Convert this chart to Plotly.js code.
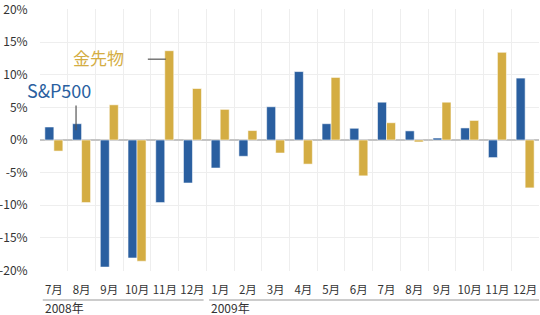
<!DOCTYPE html>
<html>
<head>
<meta charset="utf-8">
<script src="https://cdn.plot.ly/plotly-3.0.1.min.js"></script>
<style>html,body{margin:0;padding:0;background:#fff;}#chart{width:540px;height:315px;}</style>
</head>
<body>
<div id="chart"></div>
<script>
const categories = ["2008-07","2008-08","2008-09","2008-10","2008-11","2008-12","2009-01","2009-02","2009-03","2009-04","2009-05","2009-06","2009-07","2009-08","2009-09","2009-10","2009-11","2009-12"];
const monthLabels = ["7月","8月","9月","10月","11月","12月","1月","2月","3月","4月","5月","6月","7月","8月","9月","10月","11月","12月"];
const sp500 = [2.0, 2.5, -19.5, -18.1, -9.6, -6.6, -4.3, -2.5, 5.1, 10.5, 2.5, 1.8, 5.8, 1.4, 0.3, 1.85, -2.7, 9.5];
const gold = [-1.7, -9.6, 5.4, -18.6, 13.7, 7.9, 4.7, 1.45, -2.0, -3.7, 9.6, -5.5, 2.65, -0.3, 5.8, 3.0, 13.45, -7.35];
const yTickVals = [-20, -15, -10, -5, 0, 5, 10, 15, 20];
const yTickText = ["-20%", "-15%", "-10%", "-5%", "0%", "5%", "10%", "15%", "20%"];
const years = ["2008年", "2009年"];

const BLUE = "#2a5fa0";
const GOLD = "#d4ad43";
const FONT = "Noto Sans CJK JP, Noto Sans, sans-serif";

const traces = [
  {type: "bar", name: "S&P500", x: categories, y: sp500,
   marker: {color: BLUE, line: {color: "rgba(255,255,255,0.55)", width: 1}}},
  {type: "bar", name: "金先物", x: categories, y: gold,
   marker: {color: GOLD, line: {color: "rgba(255,255,255,0.55)", width: 1}}}
];

const layout = {
  width: 540, height: 315,
  margin: {l: 40, r: 1, t: 9, b: 44, pad: 0},
  paper_bgcolor: "#fff", plot_bgcolor: "#fff",
  showlegend: false,
  barmode: "group", bargap: 0.35, bargroupgap: 0,
  font: {family: FONT, size: 12, color: "#333"},
  xaxis: {
    type: "category", tickvals: categories, ticktext: monthLabels, tickangle: 0,
    range: [-0.5, 17.5], automargin: false,
    tickson: "boundaries", showgrid: true, gridcolor: "#eeeeee", gridwidth: 1,
    ticks: "", ticklabelstandoff: 10, zeroline: false, showline: false,
    tickfont: {family: FONT, size: 11.5, color: "#333"}, fixedrange: true
  },
  yaxis: {
    range: [-20.1, 20.1], tickvals: yTickVals, ticktext: yTickText, automargin: false,
    ticklabeloverflow: "allow",
    showgrid: true, gridcolor: "#eeeeee", gridwidth: 1,
    zeroline: true, zerolinecolor: "#c4c4c4", zerolinewidth: 1.5,
    ticks: "outside", ticklen: 9, tickcolor: "rgba(0,0,0,0)", showline: false,
    tickfont: {family: FONT, size: 12, color: "#333"}, fixedrange: true
  },
  shapes: [
    {type: "line", xref: "x", yref: "paper", x0: -0.4, x1: 5.4, y0: -0.111, y1: -0.111,
     line: {color: "#cccccc", width: 2}},
    {type: "line", xref: "x", yref: "paper", x0: 5.6, x1: 17.5, y0: -0.111, y1: -0.111,
     line: {color: "#cccccc", width: 2}},
    {type: "line", xref: "x", yref: "y", x0: 3.39, x1: 4.04, y0: 12.4, y1: 12.4,
     line: {color: "#555", width: 1.2}},
    {type: "line", xref: "x", yref: "y", x0: 0.8, x1: 0.8, y0: 5.3, y1: 1.5,
     line: {color: "#555", width: 1.2}}
  ],
  annotations: [
    {xref: "x", yref: "paper", x: -0.5, y: -0.141, xanchor: "left", yanchor: "middle", xshift: 3,
     text: years[0], showarrow: false, font: {family: FONT, size: 12, color: "#333"}},
    {xref: "x", yref: "paper", x: 5.5, y: -0.141, xanchor: "left", yanchor: "middle", xshift: 3,
     text: years[1], showarrow: false, font: {family: FONT, size: 12, color: "#333"}},
    {xref: "x", yref: "y", x: 2.59, y: 12.6, xanchor: "right", yanchor: "middle",
     text: "金先物", showarrow: false, font: {family: FONT, size: 17, color: GOLD}},
    {xref: "x", yref: "y", x: 1.41, y: 7.6, xanchor: "right", yanchor: "middle",
     text: "S&P500", showarrow: false, font: {family: FONT, size: 18, color: BLUE}}
  ]
};

Plotly.newPlot("chart", traces, layout, {staticPlot: true, displayModeBar: false});
</script>
</body>
</html>
